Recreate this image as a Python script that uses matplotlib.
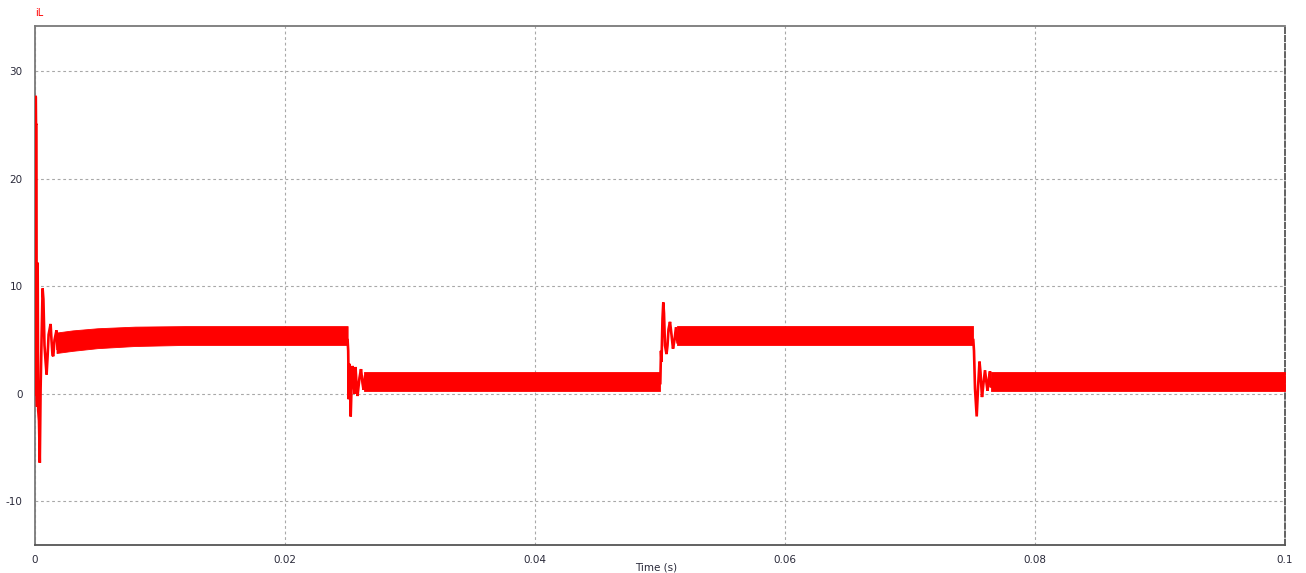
import numpy as np
import matplotlib
matplotlib.use("Agg")
import matplotlib.pyplot as plt

# Inductor current iL (A) versus time (s)
# Fast transients (start-up and load steps), sampled as (time, current)
startup_t = [0.0, 0.000024, 0.000064, 0.00008, 0.000112, 0.000136, 0.000168,
             0.000192, 0.000216, 0.000256, 0.00032, 0.000384, 0.000448,
             0.00052, 0.000608, 0.000672, 0.00076, 0.000848, 0.000928,
             0.001008, 0.001088, 0.001248, 0.00132, 0.0014, 0.001464,
             0.00156, 0.00172, 0.0018]
startup_i = [0.0, 27.7, 27.6, 25.0, 25.0, 0.0, -1.2, 12.2, 11.0, -1.5, -2.5,
             -6.4, 0.5, 4.8, 9.8, 8.8, 4.5, 3.0, 1.8, 3.5, 5.5, 6.5, 5.0,
             3.6, 3.5, 5.0, 5.9, 4.2]

step1_t = [0.025008, 0.025056, 0.025104, 0.025144, 0.0252, 0.025256,
           0.02532, 0.0254, 0.02548, 0.02556, 0.02564, 0.02572, 0.0258,
           0.02596, 0.02608, 0.0262, 0.02628, 0.0264]
step1_i = [5.0, 4.0, -0.5, 2.8, 1.0, -2.1, 0.5, 2.6, 1.5, 0.0, 2.5, 1.0,
           -0.2, 1.5, 2.3, 1.0, 0.4, 1.6]

step2_t = [0.050024, 0.05008, 0.05012, 0.0502, 0.050264, 0.05032, 0.0504,
           0.05052, 0.0506, 0.05068, 0.0508, 0.05092, 0.05104, 0.05116,
           0.05128, 0.0514]
step2_i = [1.0, 4.0, 3.0, 7.0, 8.5, 7.5, 4.5, 3.7, 4.5, 6.0, 6.7, 5.5,
           4.2, 5.0, 6.2, 4.8]

step3_t = [0.075064, 0.07512, 0.0752, 0.075336, 0.07544, 0.07556, 0.07564,
           0.07576, 0.07588, 0.076, 0.07612, 0.0762, 0.07632, 0.0764,
           0.07648, 0.07656]
step3_i = [5.0, 4.0, 0.5, -2.1, 0.5, 3.0, 2.0, -0.3, 1.0, 2.2, 1.0, 0.3,
           1.5, 2.1, 0.6, 1.2]

# Switching-ripple bands: (time, ripple top, ripple bottom)
band1_t = [0.00172, 0.003, 0.005, 0.008, 0.012, 0.02501]
band1_hi = [5.7, 5.9, 6.1, 6.25, 6.3, 6.3]
band1_lo = [3.8, 4.0, 4.25, 4.45, 4.55, 4.55]

band2_t = [0.0263, 0.05003]
band2_hi = [2.0, 2.0]
band2_lo = [0.28, 0.28]

band3_t = [0.05136, 0.07507]
band3_hi = [6.28, 6.28]
band3_lo = [4.55, 4.55]

band4_t = [0.07648, 0.1]
band4_hi = [2.0, 2.0]
band4_lo = [0.28, 0.28]

x_ticks = [0, 0.02, 0.04, 0.06, 0.08, 0.1]
x_labels = ["0", "0.02", "0.04", "0.06", "0.08", "0.1"]
y_ticks = [-10, 0, 10, 20, 30]
y_labels = ["-10", "0", "10", "20", "30"]

W, H = 1306, 573
fig = plt.figure(figsize=(W / 100, H / 100), dpi=100)
ax = fig.add_axes([35 / W, 1 - 545 / H, (1285 - 35) / W, (545 - 26) / H])

red = "#ff0000"
for t, i in [(startup_t, startup_i), (step1_t, step1_i),
             (step2_t, step2_i), (step3_t, step3_i)]:
    ax.plot(t, i, color=red, lw=1.9, solid_joinstyle="miter", zorder=3)

for t, hi, lo in [(band1_t, band1_hi, band1_lo), (band2_t, band2_hi, band2_lo),
                  (band3_t, band3_hi, band3_lo), (band4_t, band4_hi, band4_lo)]:
    ax.fill_between(t, lo, hi, color=red, lw=0.6, edgecolor=red, zorder=3)

ax.set_xlim(0, 0.1)
ax.set_ylim(-14.05, 34.2)
ax.set_xticks(x_ticks)
ax.set_xticklabels(x_labels)
ax.set_yticks(y_ticks)
ax.set_yticklabels(y_labels)
ax.tick_params(length=0, labelsize=7.5, colors="#2a2a3a")
ax.tick_params(axis="x", pad=7)
ax.tick_params(axis="y", pad=9)
ax.grid(True, color="#a8a8a8", linestyle=(0, (2.5, 2.5)), linewidth=0.8)
ax.set_axisbelow(True)

for side in ["left", "top"]:
    ax.spines[side].set_color("#7a7a7a")
    ax.spines[side].set_linewidth(1.3)
ax.spines["bottom"].set_color("#555555")
ax.spines["bottom"].set_linewidth(1.3)
ax.spines["right"].set_color("#555555")
ax.spines["right"].set_linewidth(1.3)
ax.spines["right"].set_linestyle((0, (3, 1.5)))

fig.text(35 / W, 1 - 13 / H, "iL", color=red, fontsize=7, va="center", ha="left")
fig.text(656 / W, 1 - 562 / H, "Time (s)", color="#2a2a3a", fontsize=7.5,
         va="top", ha="center")

fig.savefig("out.png", dpi=100, facecolor="white")
